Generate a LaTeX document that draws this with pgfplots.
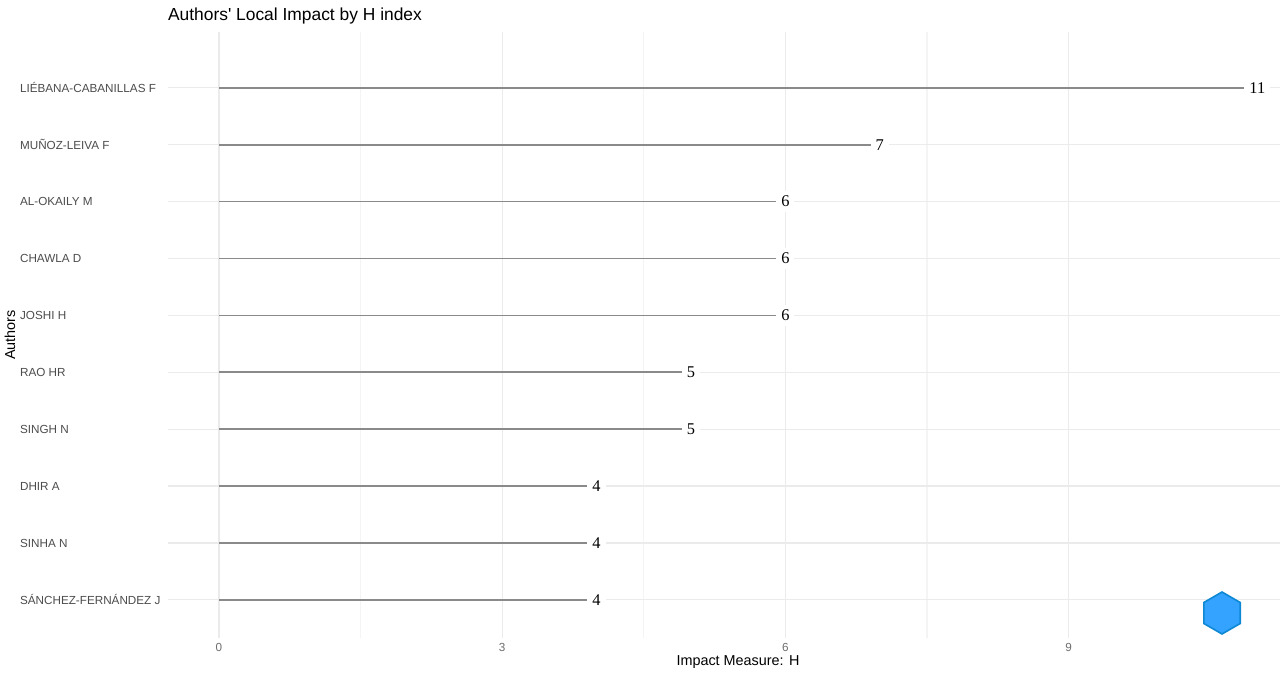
\documentclass[border=0pt]{standalone}
\usepackage{pgfplots}
\pgfplotsset{compat=1.18}
\usepackage{pgfplotstable}
\usepackage{fontspec}
\setmainfont{Liberation Sans}
\newfontfamily\serifnum{Liberation Serif}
\usetikzlibrary{shapes.geometric}
\definecolor{gridmaj}{HTML}{EBEBEB}
\definecolor{gridmin}{HTML}{F4F4F4}
\definecolor{seg}{HTML}{8A8A8A}
\definecolor{ticktxt}{HTML}{4D4D4D}
\definecolor{xticktxt}{HTML}{6E6E6E}
\pgfplotstableread{
y v
10 11
9 7
8 6
7 6
6 6
5 5
4 5
3 4
2 4
1 4
}\hindex
\begin{document}
\begin{tikzpicture}
\path[use as bounding box, fill=white] (0,0) rectangle (640pt,337.5pt);
\begin{axis}[
  at={(84pt,18.5pt)}, anchor=south west,
  scale only axis, width=556pt, height=303pt,
  xmin=-0.54, xmax=11.24, ymin=0.33, ymax=10.98,
  axis line style={draw=none},
  tick style={draw=none},
  xtick={0,3,6,9},
  minor xtick={1.5,4.5,7.5},
  ytick={1,...,10},
  yticklabels={SÁNCHEZ-FERNÁNDEZ J, SINHA N, DHIR A, SINGH N, RAO HR, JOSHI H, CHAWLA D, AL-OKAILY M, MUÑOZ-LEIVA F, LIÉBANA-CABANILLAS F},
  xmajorgrids, xminorgrids, ymajorgrids,
  major grid style={gridmaj, line width=0.6pt},
  minor grid style={gridmin, line width=0.6pt},
  yticklabel style={anchor=west, xshift=-77.5pt, font=\fontsize{5.85}{7}\selectfont, text=ticktxt},
  xticklabel style={font=\fontsize{5.85}{7}\selectfont, text=xticktxt, yshift=1pt},
  /pgf/number format/assume math mode=true,
  clip=false,
]
\addplot[xcomb, seg, line width=0.85pt, mark=none,
  point meta=x,
  nodes near coords,
  nodes near coords style={anchor=center, fill=white, inner sep=2.5pt, text=black, font=\serifnum\fontsize{8.2}{9}\selectfont},
] table[x=v, y=y] {\hindex};
\end{axis}
\node[anchor=west, font=\fontsize{8.7}{10}\selectfont] at (80.5pt,329.5pt) {Authors\textquotesingle{} Local Impact by H index};
\node[font=\fontsize{7.2}{9}\selectfont] at (369pt,6.5pt) {Impact Measure: H};
\node[rotate=90, font=\fontsize{7.2}{9}\selectfont] at (5pt,170pt) {Authors};
\node[regular polygon, regular polygon sides=6, shape border rotate=30, minimum size=21pt, inner sep=0pt, fill=blue!45!cyan!80!white, draw=cyan!70!blue, line width=0.8pt] at (611pt,31pt) {};
\end{tikzpicture}
\end{document}
